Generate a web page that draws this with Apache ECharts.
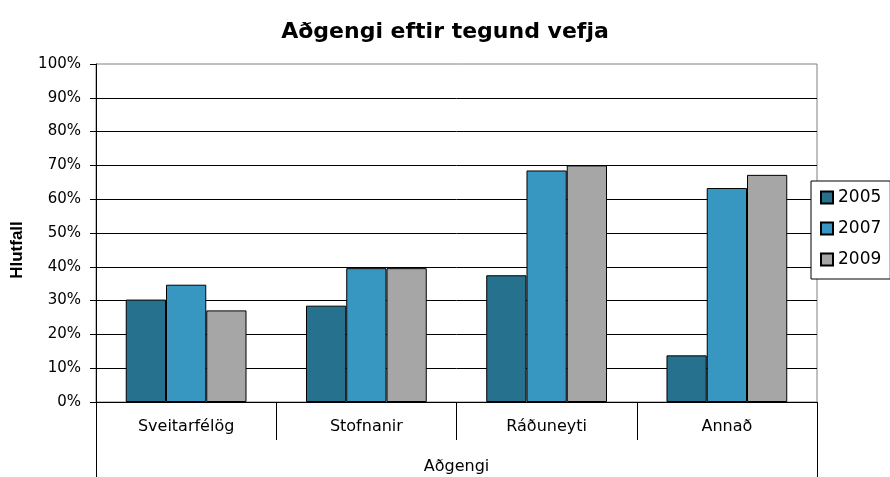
<!DOCTYPE html>
<html>
<head>
<meta charset="utf-8">
<script src="https://cdn.jsdelivr.net/npm/echarts@6/dist/echarts.min.js"></script>
<style>html,body{margin:0;padding:0;background:#fff;}#c{width:890px;height:477px;}</style>
</head>
<body>
<div id="c"></div>
<script>
const categories = ['Sveitarfélög', 'Stofnanir', 'Ráðuneyti', 'Annað'];
const seriesNames = ['2005', '2007', '2009'];
const values2005 = [30.3, 28.5, 37.5, 13.8];
const values2007 = [34.7, 39.6, 68.5, 63.3];
const values2009 = [27.1, 39.6, 70.0, 67.2];
const colors = ['#26728E', '#3797C0', '#A6A6A6'];
const titleText = 'Aðgengi eftir tegund vefja';
const yAxisTitle = 'Hlutfall';
const xAxisTitle = 'Aðgengi';

const font = 'DejaVu Sans';
const chart = echarts.init(document.getElementById('c'), null, {renderer: 'canvas'});
const allValues = [values2005, values2007, values2009];

chart.setOption({
  animation: false,
  backgroundColor: '#fff',
  title: {
    text: titleText, left: 'center', top: 16,
    textStyle: {fontFamily: font, fontWeight: 'bold', fontSize: 22, color: '#000'}
  },
  legend: {
    orient: 'vertical', left: 811, top: 181,
    width: 56,
    padding: [8, 9, 11, 9],
    itemGap: 14, itemWidth: 12, itemHeight: 12,
    borderColor: '#000', borderWidth: 1, backgroundColor: '#fff',
    icon: 'rect',
    textStyle: {fontFamily: font, fontSize: 17, color: '#000'},
    data: seriesNames
  },
  grid: {
    left: 96, right: 73, top: 64, bottom: 75,
    show: true, borderColor: '#808080', borderWidth: 1, backgroundColor: '#fff'
  },
  graphic: [{
    type: 'text', x: 17, y: 250, rotation: Math.PI / 2,
    style: {text: yAxisTitle, font: 'bold 17px "Liberation Sans"', fill: '#000', align: 'center', verticalAlign: 'middle'}
  }],
  xAxis: [{
    type: 'category', data: categories, position: 'bottom',
    axisLine: {lineStyle: {color: '#000', width: 1}},
    axisTick: {show: true, interval: 0, length: 38, lineStyle: {color: '#000'}},
    axisLabel: {interval: 0, margin: 17, fontFamily: font, fontSize: 16, color: '#000'},
    splitLine: {show: false}
  }, {
    type: 'category', data: [xAxisTitle], position: 'bottom',
    axisLine: {show: false},
    axisTick: {show: true, length: 75, lineStyle: {color: '#000'}},
    axisLabel: {margin: 57, fontFamily: font, fontSize: 16, color: '#000'},
    splitLine: {show: false}
  }],
  yAxis: {
    type: 'value', min: 0, max: 100, interval: 10,
    axisLine: {show: true, lineStyle: {color: '#000', width: 1}},
    axisTick: {show: true, length: 6, lineStyle: {color: '#000'}},
    axisLabel: {formatter: '{value}%', margin: 15, fontFamily: font, fontSize: 15, color: '#000'},
    splitLine: {show: true, showMinLine: false, showMaxLine: false, lineStyle: {color: '#000', width: 1}}
  },
  series: seriesNames.map((name, i) => ({
    name: name, type: 'bar', xAxisIndex: 0,
    data: allValues[i],
    barGap: '0%', barCategoryGap: '33%',
    itemStyle: {color: colors[i], borderColor: '#000', borderWidth: 1}
  }))
});
</script>
</body>
</html>
